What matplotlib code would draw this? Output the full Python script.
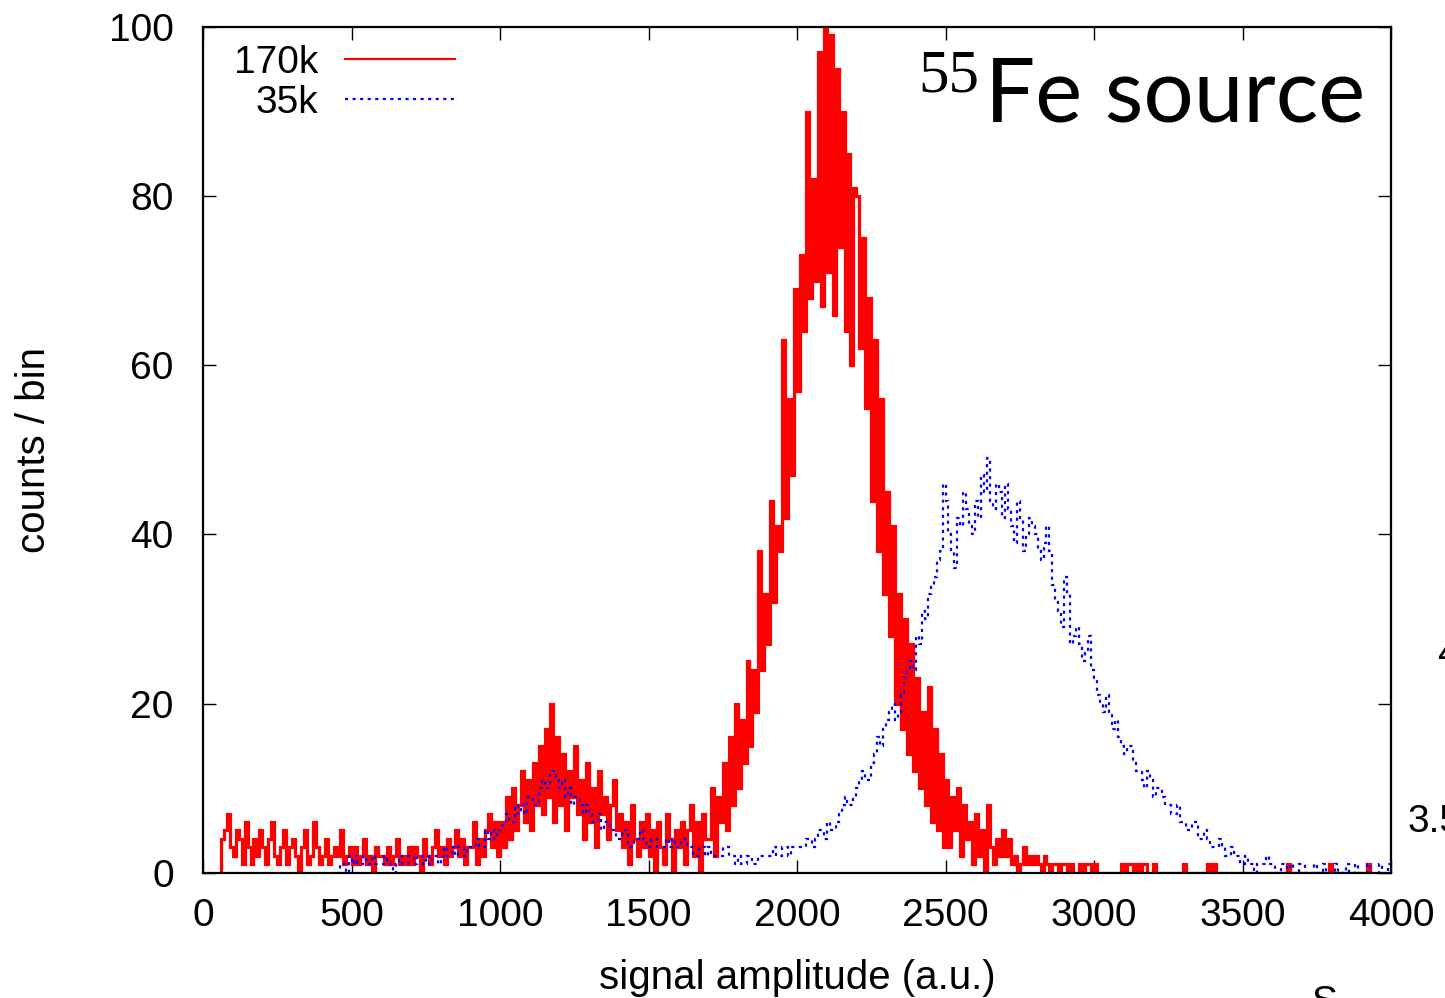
import numpy as np
import matplotlib
matplotlib.use("Agg")
import matplotlib.pyplot as plt
from matplotlib.lines import Line2D
from matplotlib.font_manager import FontProperties

# ---------------- data ----------------
red_start = 60
red_width = 10
red_counts = [
    4, 5, 7, 3,
    2, 5, 4, 1, 6, 3, 1, 4, 2, 5,
    3, 1, 4, 6, 2, 1, 3, 5, 1, 3,
    4, 2, 0, 3, 5, 1, 2, 6, 3, 1,
    2, 4, 1, 2, 3, 2, 5, 1, 2, 3,
    1, 3, 1, 2, 4, 1, 2, 0, 3, 2,
    2, 1, 3, 1, 2, 4, 1, 2, 1, 3,
    1, 3, 2, 0, 4, 2, 1, 3, 5, 2,
    3, 1, 4, 2, 3, 5, 2, 4, 1, 3,
    3, 6, 1, 4, 2, 5, 7, 3, 6, 2,
    6, 3, 9, 4, 10, 5, 8, 12, 6, 11,
    5, 13, 8, 15, 7, 17, 9, 20, 6, 16,
    8, 14, 5, 12, 9, 15, 7, 11, 4, 13,
    6, 10, 3, 12, 7, 9, 4, 8, 11, 5,
    7, 3, 6, 1, 8, 4, 2, 6, 3, 7,
    2, 5, 0, 6, 3, 1, 7, 4, 0, 5,
    3, 6, 1, 5, 8, 2, 6, 0, 7, 4,
    4, 10, 2, 9, 6, 13, 5, 16, 8, 20,
    10, 18, 13, 25, 15, 24, 19, 38, 24, 33,
    27, 44, 32, 41, 38, 63, 42, 56, 47, 69,
    57, 73, 64, 90, 68, 82, 70, 97, 67, 100,
    71, 99, 66, 95, 74, 90, 64, 85, 60, 81,
    80, 62, 75, 55, 68, 44, 63, 38, 56, 33,
    45, 28, 41, 20, 33, 17, 30, 14, 27, 12,
    23, 10, 19, 8, 22, 6, 17, 5, 14, 3,
    11, 3, 9, 5, 10, 2, 8, 4, 6, 1,
    7, 2, 5, 0, 8, 3, 1, 4, 2, 5,
    2, 4, 1, 2, 0, 1, 3, 1, 2, 1,
    2, 1, 0, 2, 1, 0, 1, 1, 0, 1,
    1, 0, 1, 0, 0, 1, 0, 1, 1, 0,
    1, 0, 0, 0, 0, 0, 0, 0, 0, 1,
    0, 1, 1, 0, 1, 0, 1, 1, 0, 0,
    1, 0, 0, 0, 0, 0, 0, 0, 0, 0,
    1, 0, 0, 0, 0, 0, 0, 0, 1, 0,
    1, 0, 0, 0, 0, 0, 0, 0, 0, 0,
    0, 0, 0, 0, 0, 0, 0, 0, 0, 0,
    0, 0, 0, 0, 0, 1, 0, 0, 0, 0,
    0, 0, 0, 0, 0, 0, 0, 0, 0, 1,
    0, 0, 0, 0, 0, 0, 0, 0, 0, 0,
    0, 0, 1, 0,
]

blue_start = 450
blue_width = 10
blue_counts = [
    0, 1, 1, 0, 2,
    1, 2, 1, 1, 2, 1, 1, 2, 1, 1,
    1, 2, 1, 1, 0, 1, 2, 1, 1, 2,
    2, 1, 2, 2, 1, 2, 1, 2, 2, 1,
    2, 3, 2, 2, 3, 2, 3, 3, 2, 3,
    3, 3, 4, 3, 3, 5, 4, 5, 4, 5,
    5, 6, 7, 6, 6, 8, 7, 8, 7, 9,
    9, 8, 8, 10, 11, 10, 10, 12, 12, 11,
    10, 11, 9, 10, 8, 9, 9, 8, 7, 8,
    7, 6, 6, 7, 5, 6, 6, 5, 5, 4,
    4, 5, 5, 3, 3, 4, 4, 5, 4, 3,
    3, 4, 4, 3, 3, 3, 4, 3, 4, 3,
    3, 4, 4, 3, 3, 2, 2, 3, 3, 2,
    3, 2, 2, 2, 2, 3, 3, 2, 2, 1,
    2, 1, 1, 2, 2, 1, 1, 2, 2, 2,
    2, 2, 3, 2, 2, 3, 3, 2, 3, 3,
    3, 3, 3, 4, 4, 3, 4, 5, 5, 4,
    6, 5, 5, 6, 7, 8, 9, 8, 8, 9,
    10, 11, 12, 11, 11, 13, 14, 16, 15, 17,
    18, 19, 20, 18, 19, 21, 23, 24, 25, 24,
    28, 27, 31, 30, 33, 34, 35, 37, 38, 46,
    44, 40, 38, 36, 42, 41, 45, 43, 41, 40,
    44, 42, 47, 45, 49, 44, 43, 46, 45, 42,
    46, 43, 41, 39, 44, 42, 38, 40, 42, 41,
    40, 38, 37, 39, 41, 38, 34, 32, 31, 29,
    35, 33, 27, 28, 29, 27, 25, 26, 28, 24,
    23, 21, 20, 19, 21, 19, 17, 18, 16, 15,
    14, 15, 15, 13, 12, 12, 11, 10, 12, 11,
    9, 10, 10, 9, 8, 8, 7, 7, 8, 6,
    6, 5, 5, 6, 6, 4, 4, 5, 4, 3,
    3, 3, 4, 3, 2, 2, 3, 2, 2, 1,
    1, 2, 1, 1, 0, 1, 1, 1, 2, 1,
    1, 0, 0, 1, 1, 0, 1, 0, 0, 1,
    1, 0, 0, 0, 1, 0, 0, 1, 0, 0,
    0, 1, 0, 0, 0, 1, 0, 0, 1, 0,
    0, 0, 1, 0, 0, 0, 1, 0, 0, 1,
]

series_labels = ["170k", "35k"]
x_ticks = [0, 500, 1000, 1500, 2000, 2500, 3000, 3500, 4000]
y_ticks = [0, 20, 40, 60, 80, 100]

# ---------------- figure ----------------
FONT = "Liberation Sans"
FS_TICK = 28
FS_LAB = 29
plt.rcParams["font.family"] = [FONT, "DejaVu Sans"]

fig = plt.figure(figsize=(14.45, 9.98), dpi=100)
W, H = 1445.0, 998.0
ax = fig.add_axes([203 / W, 1 - 872.7 / H, (1391 - 203) / W, (872.7 - 27) / H])

red_edges = red_start + red_width * np.arange(len(red_counts) + 1)
blue_edges = blue_start + blue_width * np.arange(len(blue_counts) + 1)

BLUE_DASH = (0, (1.4, 2.0))
ax.stairs(blue_counts, blue_edges, baseline=None, color="#0000ff",
          linewidth=1.6, linestyle=BLUE_DASH, zorder=3)
ax.stairs(red_counts, red_edges, baseline=0, color="#ff0000",
          linewidth=2.3, zorder=2)

ax.set_xlim(0, 4000)
ax.set_ylim(0, 100)
ax.set_xticks(x_ticks)
ax.set_yticks(y_ticks)
ax.tick_params(direction="in", length=9.5, width=1.0, top=True, right=True,
               labelsize=FS_TICK, colors="black")
ax.tick_params(axis="x", pad=18)
ax.tick_params(axis="y", pad=21)
for s in ax.spines.values():
    s.set_linewidth(1.6)
    s.set_zorder(5)

ax.set_xlabel("signal amplitude (a.u.)", fontsize=FS_LAB, labelpad=18)
ax.set_ylabel("counts / bin", fontsize=FS_LAB, labelpad=40)

# legend (gnuplot style: label right-aligned, sample to the right)
leg_styles = [dict(color="#ff0000", linewidth=1.6, linestyle="-"),
              dict(color="#0000ff", linewidth=1.6, linestyle=BLUE_DASH)]
leg_y = [(872.7 - 59) / 845.7, (872.7 - 99) / 845.7]
for lab, sty, yy in zip(series_labels, leg_styles, leg_y):
    ax.add_line(Line2D([(345 - 203) / 1188, (455 - 203) / 1188], [yy, yy],
                       transform=ax.transAxes, clip_on=False, **sty))
    ax.text((318 - 203) / 1188, yy, lab, transform=ax.transAxes,
            ha="right", va="center_baseline", fontsize=FS_TICK)

# title-like annotation
fp_main = FontProperties(family="Lato", weight="normal", size=64)
fp_sup = FontProperties(family="Liberation Serif", weight="normal", size=44)
t_main = fig.text(1365 / W, 1 - 122 / H, "Fe source", fontproperties=fp_main,
                  ha="right", va="baseline")
fig.canvas.draw()
bb = t_main.get_window_extent()
fig.text((bb.x0 - 6) / W, 1 - 92 / H, "55", fontproperties=fp_sup,
         ha="right", va="baseline")

# fragments of a neighbouring figure visible at the right/bottom edge
fig.text(1408 / W, 1 - 822 / H, "3.5", fontsize=FS_TICK, ha="left", va="center")
fig.text(1437 / W, 1 - 655 / H, "4", fontsize=FS_TICK, ha="left", va="center")
fig.text(1311 / W, 1 - 985 / H, "S", fontsize=FS_TICK, ha="left", va="top")

fig.savefig("out.png", dpi=100)
